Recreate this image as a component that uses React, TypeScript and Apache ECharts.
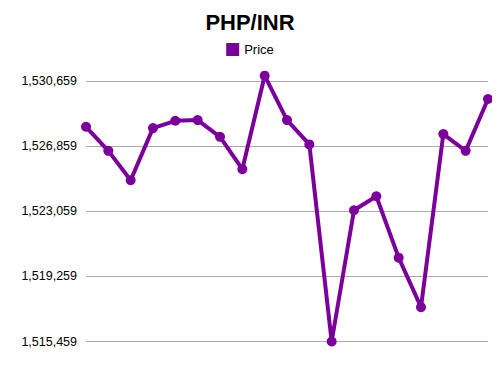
import React, { useEffect, useRef } from "react";
import * as echarts from "echarts";

const categories: string[] = [
  "1", "2", "3", "4", "5", "6", "7", "8", "9", "10",
  "11", "12", "13", "14", "15", "16", "17", "18", "19",
];
const priceValues: number[] = [
  1527987, 1526584, 1524871, 1527911, 1528338, 1528379, 1527403, 1525514,
  1530969, 1528379, 1526958, 1515459, 1523118, 1523936, 1520352, 1517464,
  1527561, 1526584, 1529607,
];
const yMin = 1515459;
const yMax = 1530659;
const yStep = 3800;

export default function App() {
  const ref = useRef<HTMLDivElement>(null);
  useEffect(() => {
    if (!ref.current) return;
    const chart = echarts.init(ref.current, undefined, { renderer: "svg" });
    chart.setOption({
      animation: false,
      backgroundColor: "#ffffff",
      textStyle: { fontFamily: "Liberation Sans, Arial, sans-serif" },
      title: {
        text: "PHP/INR",
        left: "center",
        top: 6,
        textStyle: {
          fontSize: 22,
          fontWeight: "bold",
          color: "#000",
          fontFamily: "Liberation Sans, Arial, sans-serif",
        },
      },
      legend: {
        top: 38,
        left: "center",
        icon: "rect",
        itemWidth: 13,
        itemHeight: 13,
        itemGap: 10,
        data: ["Price"],
        textStyle: { fontSize: 13, color: "#000" },
      },
      grid: { left: 86, right: 12, top: 81, bottom: 33.5, containLabel: false },
      xAxis: {
        type: "category",
        data: categories,
        boundaryGap: false,
        axisLine: { show: false },
        axisTick: { show: false },
        axisLabel: { show: false },
        splitLine: { show: false },
      },
      yAxis: {
        type: "value",
        min: yMin,
        max: yMax,
        interval: yStep,
        axisLine: { show: false },
        axisTick: { show: false },
        axisLabel: {
          margin: 9,
          fontSize: 12.5,
          color: "#000",
          formatter: (v: number) => v.toLocaleString("en-US"),
        },
        splitLine: { lineStyle: { color: "#aaaaaa", width: 1 } },
      },
      series: [
        {
          name: "Price",
          type: "line",
          data: priceValues,
          clip: false,
          symbol: "circle",
          symbolSize: 10,
          itemStyle: { color: "#7b0099" },
          lineStyle: { color: "#7b0099", width: 4 },
        },
      ],
    });
    return () => chart.dispose();
  }, []);
  return <div ref={ref} style={{ width: 500, height: 375, margin: -8 }} />;
}
